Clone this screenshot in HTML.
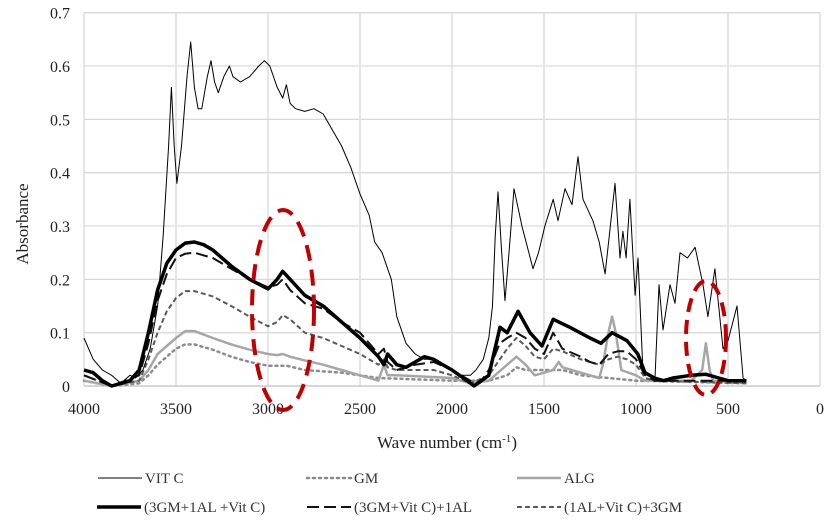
<!DOCTYPE html>
<html><head><meta charset="utf-8">
<style>
html,body{margin:0;padding:0;background:#fff;}
svg{display:block;font-family:"Liberation Serif",serif;}
</style></head>
<body>
<svg id="chart" width="830" height="524" viewBox="0 0 830 524" xmlns="http://www.w3.org/2000/svg">
<rect x="0" y="0" width="830" height="524" fill="#fff"/>
<g id="grid"></g>
<g id="ticks"></g>
<g id="series"></g>
<ellipse cx="283" cy="310" rx="31" ry="100" fill="none" stroke="#c00000" stroke-width="4" stroke-dasharray="16,9"/>
<ellipse cx="706" cy="338" rx="20" ry="57" fill="none" stroke="#c00000" stroke-width="4" stroke-dasharray="14,8"/>
<text transform="translate(28,224) rotate(-90)" text-anchor="middle" font-size="17" fill="#222">Absorbance</text>
<text x="447" y="448" text-anchor="middle" font-size="17" fill="#222">Wave number  (cm<tspan font-size="11" dy="-6">-1</tspan><tspan dy="6">)</tspan></text>
<g id="legend"></g>
</svg>
<script>
const xTicks=[4000,3500,3000,2500,2000,1500,1000,500,0];
const yTicks=[0,0.1,0.2,0.3,0.4,0.5,0.6,0.7];
const yTickLabels=["0","0.1","0.2","0.3","0.4","0.5","0.6","0.7"];

const vitcW=[4000,3950,3900,3850,3800,3750,3720,3680,3640,3600,3570,3540,3525,3510,3495,3470,3440,3420,3400,3380,3360,3330,3310,3290,3270,3240,3210,3190,3150,3100,3050,3020,2990,2950,2920,2900,2880,2850,2800,2750,2700,2650,2600,2550,2500,2450,2420,2380,2350,2330,2300,2250,2200,2150,2100,2050,2000,1950,1900,1870,1830,1800,1780,1765,1750,1730,1712,1690,1663,1620,1560,1530,1495,1450,1424,1386,1348,1315,1288,1234,1200,1168,1114,1087,1071,1054,1033,1005,989,962,930,897,875,853,815,788,761,720,679,636,609,571,527,500,451,418,400];
const vitcV=[0.09,0.05,0.03,0.02,0.005,0.02,0.015,0.03,0.07,0.15,0.28,0.45,0.56,0.45,0.38,0.45,0.58,0.645,0.56,0.52,0.52,0.58,0.61,0.57,0.55,0.58,0.60,0.58,0.57,0.58,0.60,0.61,0.60,0.56,0.54,0.565,0.53,0.52,0.515,0.52,0.51,0.48,0.45,0.41,0.36,0.32,0.27,0.25,0.22,0.2,0.13,0.08,0.06,0.05,0.05,0.04,0.03,0.02,0.02,0.03,0.05,0.09,0.15,0.28,0.364,0.25,0.16,0.25,0.37,0.30,0.22,0.25,0.30,0.35,0.31,0.37,0.34,0.43,0.35,0.31,0.27,0.21,0.38,0.24,0.29,0.24,0.35,0.17,0.24,0.025,0.02,0.015,0.19,0.105,0.19,0.155,0.25,0.24,0.26,0.19,0.13,0.22,0.07,0.085,0.15,0.015,0.01];

const mixAW=[4000,3950,3900,3850,3800,3750,3700,3650,3600,3550,3500,3450,3400,3350,3300,3250,3200,3100,3000,2950,2920,2880,2800,2700,2600,2500,2400,2370,2350,2300,2250,2200,2150,2100,2050,2000,1918,1880,1800,1739,1700,1641,1576,1511,1450,1359,1250,1190,1130,1049,990,951,900,850,800,700,620,550,500,400];
const mixAV=[0.03,0.025,0.01,0.0,0.005,0.01,0.03,0.1,0.18,0.23,0.255,0.268,0.27,0.265,0.255,0.24,0.225,0.2,0.182,0.2,0.215,0.2,0.17,0.15,0.12,0.09,0.055,0.04,0.06,0.04,0.035,0.045,0.055,0.05,0.04,0.03,0.01,0.0,0.02,0.11,0.10,0.14,0.10,0.075,0.125,0.11,0.09,0.08,0.10,0.085,0.06,0.025,0.015,0.01,0.015,0.02,0.022,0.015,0.01,0.01];

const mixBW=[4000,3850,3700,3650,3600,3550,3500,3450,3400,3300,3200,3100,3000,2950,2920,2880,2800,2700,2600,2500,2450,2400,2370,2350,2300,2200,2100,2000,1900,1850,1800,1740,1700,1650,1600,1550,1500,1450,1400,1300,1250,1200,1150,1100,1050,1000,950,900,400];
const mixBV=[0.02,0.0,0.02,0.08,0.16,0.21,0.24,0.248,0.25,0.24,0.22,0.2,0.185,0.19,0.2,0.18,0.155,0.145,0.12,0.1,0.08,0.06,0.07,0.045,0.03,0.04,0.045,0.03,0.01,0.005,0.03,0.08,0.09,0.1,0.09,0.07,0.06,0.1,0.07,0.055,0.045,0.04,0.06,0.065,0.065,0.05,0.02,0.01,0.01];

const mixCW=[4000,3850,3700,3650,3600,3550,3500,3450,3400,3300,3200,3100,3000,2950,2920,2880,2800,2700,2600,2500,2400,2370,2350,2300,2100,2000,1900,1800,1700,1650,1600,1550,1500,1450,1400,1300,1200,1150,1100,1050,1000,950,900,400];
const mixCV=[0.02,0.0,0.01,0.05,0.1,0.14,0.165,0.178,0.178,0.168,0.15,0.13,0.112,0.12,0.133,0.125,0.1,0.09,0.075,0.06,0.04,0.05,0.035,0.03,0.03,0.02,0.005,0.02,0.07,0.09,0.075,0.055,0.05,0.07,0.065,0.05,0.04,0.05,0.055,0.05,0.04,0.015,0.01,0.005];

const algW=[4000,3850,3700,3650,3600,3500,3450,3400,3300,3200,3100,3000,2950,2920,2880,2800,2700,2600,2500,2400,2370,2350,2300,2000,1900,1800,1700,1650,1600,1550,1450,1420,1400,1300,1200,1180,1150,1130,1110,1080,1000,950,700,640,620,600,580,400];
const algV=[0.01,0.0,0.01,0.03,0.06,0.09,0.103,0.103,0.09,0.078,0.068,0.06,0.058,0.06,0.055,0.048,0.04,0.03,0.02,0.01,0.04,0.02,0.02,0.015,0.005,0.01,0.04,0.055,0.04,0.02,0.03,0.045,0.035,0.025,0.015,0.04,0.1,0.13,0.1,0.03,0.02,0.01,0.01,0.03,0.08,0.03,0.01,0.005];

const gmW=[4000,3850,3700,3650,3600,3500,3450,3400,3300,3200,3100,3000,2900,2800,2600,2400,2000,1800,1700,1650,1600,1500,1400,1300,1000,400];
const gmV=[0.01,0.0,0.005,0.02,0.04,0.07,0.078,0.078,0.068,0.055,0.045,0.038,0.038,0.03,0.025,0.015,0.01,0.01,0.02,0.035,0.03,0.03,0.03,0.02,0.01,0.005];

const NS='http://www.w3.org/2000/svg';
const X0=84,X1=820,Y0=386,Y1=12.7;
function xs(w){return X0+(4000-w)/4000*(X1-X0);}
function ys(v){return Y0-v/0.7*(Y0-Y1);}
function mk(tag,attrs,parent){const e=document.createElementNS(NS,tag);for(const k in attrs)e.setAttribute(k,attrs[k]);parent.appendChild(e);return e;}

const grid=document.getElementById('grid');
const ticks=document.getElementById('ticks');
xTicks.forEach(t=>{
  const l=mk('line',{x1:xs(t),x2:xs(t),y1:Y1,y2:Y0,stroke:'#d9d9d9','stroke-width':1.3},grid);
  
  
  const tx=mk('text',{x:xs(t),y:414,'text-anchor':'middle','font-size':16,fill:'#222'},ticks);
  
  
  tx.textContent=String(t);
});
yTicks.forEach((t,i)=>{
  const l=mk('line',{x1:X0,x2:X1,y1:ys(t),y2:ys(t),stroke:i===0?'#bfbfbf':'#d9d9d9','stroke-width':1.3},grid);
  
  
  const tx=mk('text',{x:70,y:ys(t)+6,'text-anchor':'end','font-size':16,fill:'#222'},ticks);
  
  
  tx.textContent=yTickLabels[i];
});

const series=document.getElementById('series');
function draw(W,V,style,name){
  const d=W.map((w,i)=>(i?'L':'M')+xs(w).toFixed(1)+','+ys(V[i]).toFixed(1)).join('');
  const p=mk('path',Object.assign({d:d,fill:'none','stroke-linejoin':'round'},style),series);
  
  
}
const stGM={stroke:'#8c8c8c','stroke-width':2.5,'stroke-dasharray':'2,4','stroke-linecap':'round'};
const stALG={stroke:'#a6a6a6','stroke-width':2.5};
const stC={stroke:'#595959','stroke-width':2,'stroke-dasharray':'5,3'};
const stB={stroke:'#111','stroke-width':2,'stroke-dasharray':'12,5'};
const stA={stroke:'#000','stroke-width':3.5};
const stV={stroke:'#000','stroke-width':1};
draw(gmW,gmV,stGM,'series-gm');
draw(algW,algV,stALG,'series-alg');
draw(mixCW,mixCV,stC,'series-1al-vitc-3gm');
draw(mixBW,mixBV,stB,'series-3gm-vitc-1al');
draw(mixAW,mixAV,stA,'series-3gm-1al-vitc');
draw(vitcW,vitcV,stV,'series-vit-c');

const legend=document.getElementById('legend');
const entries=[
 {x:98,y:483,label:'VIT C',st:stV,name:'legend-entry-vit-c'},
 {x:307,y:483,label:'GM',st:stGM,name:'legend-entry-gm'},
 {x:517,y:483,label:'ALG',st:stALG,name:'legend-entry-alg'},
 {x:97,y:512,label:'(3GM+1AL +Vit C)',st:stA,name:'legend-entry-3gm-1al-vitc'},
 {x:307,y:512,label:'(3GM+Vit C)+1AL',st:stB,name:'legend-entry-3gm-vitc-1al'},
 {x:517,y:512,label:'(1AL+Vit C)+3GM',st:stC,name:'legend-entry-1al-vitc-3gm'}
];
entries.forEach(e=>{
  const g=mk('g',{},legend);
  
  
  mk('line',Object.assign({x1:e.x,x2:e.x+44,y1:e.y-5,y2:e.y-5},e.st),g);
  const t=mk('text',{x:e.x+47,y:e.y,'font-size':15,fill:'#333'},g);
  t.textContent=e.label;
});
</script>
</body></html>
